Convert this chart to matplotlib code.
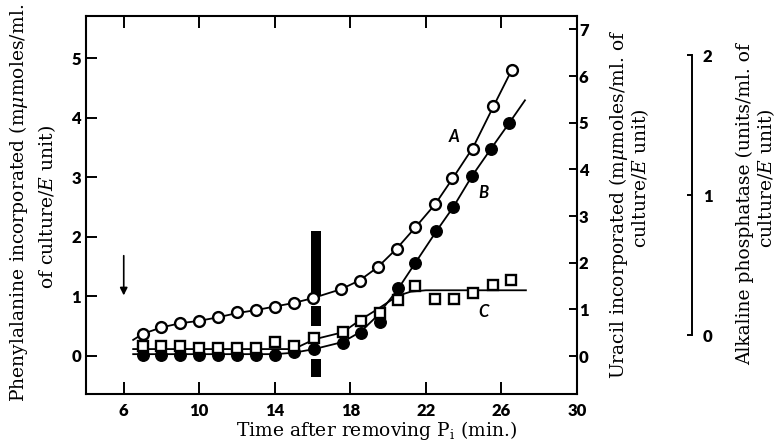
import numpy as np
import matplotlib
matplotlib.use('Agg')
import matplotlib.pyplot as plt
from matplotlib.font_manager import FontProperties

plt.rcParams['mathtext.fontset'] = 'dejavuserif'

# curve A: phenylalanine (left axis)
a_time = [7, 8, 9, 10, 11, 12, 13, 14, 15, 16, 17.5, 18.5, 19.45, 20.45, 21.45, 22.5, 23.4, 24.5, 25.55, 26.55]
a_phe = [0.37, 0.48, 0.55, 0.58, 0.66, 0.73, 0.77, 0.83, 0.89, 0.98, 1.12, 1.26, 1.49, 1.80, 2.16, 2.55, 2.98, 3.48, 4.19, 4.80]
a_fit_t = [6.5, 7, 8, 9, 10, 11, 12, 13, 14, 15, 16, 17.5, 18.5, 19.45, 20.45, 21.45, 22.5, 23.4, 24.5, 25.55, 26.55]
a_fit_v = [0.27, 0.37, 0.48, 0.55, 0.59, 0.65, 0.72, 0.77, 0.83, 0.89, 0.97, 1.12, 1.27, 1.49, 1.80, 2.16, 2.55, 2.97, 3.50, 4.17, 4.80]

# curve B: uracil (right axis)
b_time = [7, 8, 9, 10, 11, 12, 13, 14, 15, 16.1, 17.6, 18.55, 19.55, 20.5, 21.45, 22.55, 23.45, 24.45, 25.43, 26.41]
b_ura = [0.02, 0.02, 0.02, 0.02, 0.02, 0.02, 0.02, 0.03, 0.08, 0.15, 0.28, 0.49, 0.72, 1.46, 2.00, 2.67, 3.19, 3.86, 4.43, 4.99]
b_fit_t = [6.5, 14, 15, 16.1, 17.6, 18.55, 19.4, 20.5, 21.45, 22.55, 23.45, 24.45, 25.43, 26.41, 27.25]
b_fit_v = [0.04, 0.04, 0.07, 0.15, 0.30, 0.52, 0.85, 1.42, 2.00, 2.67, 3.19, 3.86, 4.43, 4.99, 5.48]

# curve C: alkaline phosphatase (third axis)
c_time = [7, 8, 9, 10, 11, 12, 13, 14, 15, 16.1, 17.6, 18.55, 19.55, 20.5, 21.45, 22.5, 23.5, 24.5, 25.55, 26.5]
c_pho = [-0.08, -0.08, -0.08, -0.09, -0.09, -0.09, -0.09, -0.05, -0.08, -0.02, 0.02, 0.10, 0.16, 0.25, 0.35, 0.26, 0.26, 0.30, 0.36, 0.39]
c_fit_t = [6.5, 15, 16.1, 17.6, 18.55, 19.5, 20.5, 21.2, 22, 27.3]
c_fit_v = [-0.10, -0.10, -0.03, 0.02, 0.11, 0.19, 0.28, 0.31, 0.32, 0.32]

# thick bar at the time of addition (phenylalanine units)
bar_t = 16.16
bar_segs = [(1.0, 2.09), (0.50, 0.84), (-0.35, -0.055)]

serif = 'DejaVu Serif'
tickfont = FontProperties(family='Lato', weight='heavy', size=12)

fig = plt.figure(figsize=(7.78, 4.42), dpi=100)
ax = fig.add_axes([0.1105, 0.1086, 0.631, 0.855])
ax_u = ax.twinx()
ax_p = ax.twinx()

ax.set_xlim(4, 30)
ax.set_ylim(-0.638, 5.705)
ax_u.set_ylim(-0.814, 7.285)
ax_p.set_ylim(-0.421, 2.279)

for lo, hi in bar_segs:
    ax.vlines(bar_t, lo, hi, color='black', lw=7.2, zorder=1)

ax.annotate('', xy=(6, 0.97), xytext=(6, 1.73),
            arrowprops=dict(arrowstyle='-|>', lw=1.2, color='black', mutation_scale=11))

ax.plot(a_fit_t, a_fit_v, color='black', lw=1.3, zorder=2)
ax.plot(a_time, a_phe, 'o', ms=7.8, mfc='white', mec='black', mew=1.7, zorder=5)

ax_u.plot(b_fit_t, b_fit_v, color='black', lw=1.3, zorder=2)
ax_u.plot(b_time, b_ura, 'o', ms=8.3, mfc='black', mec='black', zorder=4)

ax_p.plot(c_fit_t, c_fit_v, color='black', lw=1.3, zorder=2)
ax_p.plot(c_time, c_pho, 's', ms=7, mfc='white', mec='black', mew=1.7, zorder=3)

for lx, ly, s in [(23.5, 3.67, 'A'), (25.07, 2.73, 'B'), (25.04, 0.74, 'C')]:
    ax.text(lx, ly, s, fontsize=12, style='italic', weight='bold', family='Lato',
            ha='center', va='center')

# main axis ticks
ax.set_xticks([6, 10, 14, 18, 22, 26, 30])
ax.set_yticks([0, 1, 2, 3, 4, 5])
ax.tick_params(axis='x', direction='in', top=True, length=8.5, width=1.4, pad=6.5)
ax.tick_params(axis='y', direction='in', length=8, width=1.4, pad=3.5)
for lab in ax.get_xticklabels() + ax.get_yticklabels():
    lab.set_fontproperties(tickfont)
for s in ax.spines.values():
    s.set_linewidth(1.5)

ax_u.set_yticks(range(0, 8))
ax_u.tick_params(axis='y', direction='in', length=6, width=1.4, pad=1.5)
for lab in ax_u.get_yticklabels():
    lab.set_fontproperties(tickfont)
for s in ax_u.spines.values():
    s.set_visible(False)

for name, s in ax_p.spines.items():
    s.set_visible(name == 'right')
ax_p.spines['right'].set_position(('axes', 1.234))
ax_p.spines['right'].set_bounds(0, 2)
ax_p.spines['right'].set_linewidth(1.4)
ax_p.set_yticks([0, 1, 2])
ax_p.tick_params(axis='y', direction='in', length=3.6, width=1.4, pad=8)
for lab in ax_p.get_yticklabels():
    lab.set_fontproperties(tickfont)

# axis titles
def vlabel(x, y, s):
    fig.text(x / 778, 1 - y / 442, s, rotation=90, ha='center', va='center',
             family=serif, fontsize=13.5)

vlabel(19, 203, r'Phenylalanine incorporated (m$\mu$moles/ml.')
vlabel(47, 207, r'of culture/$E$ unit)')
vlabel(618, 204, r'Uracil incorporated (m$\mu$moles/ml. of')
vlabel(640, 178, r'culture/$E$ unit)')
vlabel(745, 204, r'Alkaline phosphatase (units/ml. of')
vlabel(766, 178, r'culture/$E$ unit)')

fig.text(377 / 778, 1 - 430 / 442, r'Time after removing P$_\mathregular{i}$ (min.)',
         ha='center', va='center', family=serif, fontsize=13.5)

fig.savefig('out.png', dpi=100)
